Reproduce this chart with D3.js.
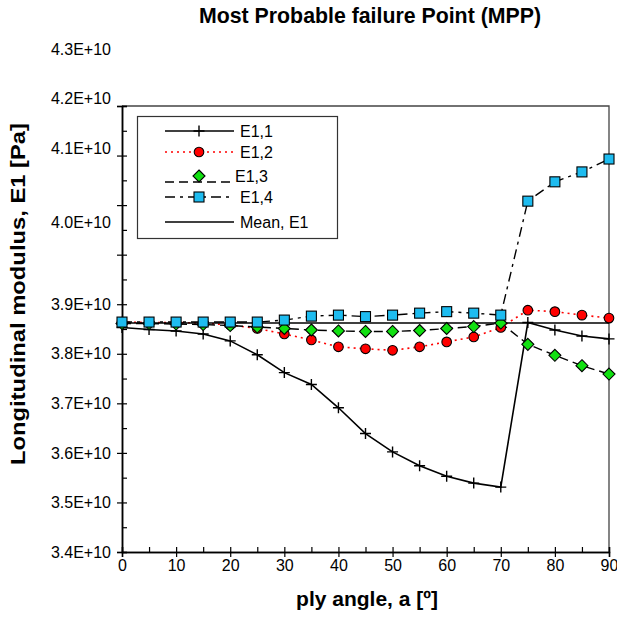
<!DOCTYPE html>
<html>
<head>
<meta charset="utf-8">
<script src="https://cdn.jsdelivr.net/npm/d3@7"></script>
<style>
  body { margin: 0; background: #fff; }
  text { font-family: "Liberation Sans", Arial, sans-serif; fill: #000; }
</style>
</head>
<body>
<div id="chart"></div>
<script>
// ply angle [deg]
var angles = [0, 5, 10, 15, 20, 25, 30, 35, 40, 45, 50, 55, 60, 65, 70, 75, 80, 85, 90];

// E1 values [Pa]
var e11 = [3.853e10, 3.849e10, 3.846e10, 3.840e10, 3.826e10, 3.798e10, 3.762e10, 3.738e10, 3.691e10, 3.639e10,
           3.602e10, 3.574e10, 3.553e10, 3.539e10, 3.531e10, 3.863e10, 3.848e10, 3.836e10, 3.830e10];
var e12 = [3.864e10, 3.863e10, 3.863e10, 3.862e10, 3.858e10, 3.851e10, 3.840e10, 3.828e10, 3.814e10, 3.810e10,
           3.807e10, 3.814e10, 3.824e10, 3.834e10, 3.853e10, 3.888e10, 3.885e10, 3.878e10, 3.872e10];
var e13 = [3.861e10, 3.861e10, 3.860e10, 3.859e10, 3.857e10, 3.854e10, 3.851e10, 3.848e10, 3.846e10, 3.845e10,
           3.845e10, 3.847e10, 3.851e10, 3.855e10, 3.862e10, 3.819e10, 3.797e10, 3.776e10, 3.759e10];
var e14 = [3.864e10, 3.864e10, 3.864e10, 3.864e10, 3.864e10, 3.864e10, 3.868e10, 3.876e10, 3.878e10, 3.875e10,
           3.878e10, 3.882e10, 3.885e10, 3.882e10, 3.878e10, 4.108e10, 4.147e10, 4.167e10, 4.193e10];
var meanE1 = [3.862e10, 3.862e10, 3.862e10, 3.862e10, 3.862e10, 3.862e10, 3.862e10, 3.862e10, 3.862e10, 3.862e10,
              3.862e10, 3.862e10, 3.862e10, 3.862e10, 3.862e10, 3.862e10, 3.862e10, 3.862e10, 3.862e10];

var xTicks = [0, 10, 20, 30, 40, 50, 60, 70, 80, 90];
var xMinorTicks = [0, 5, 10, 15, 20, 25, 30, 35, 40, 45, 50, 55, 60, 65, 70, 75, 80, 85, 90];
var yTicks = [3.4e10, 3.5e10, 3.6e10, 3.7e10, 3.8e10, 3.9e10, 4.0e10, 4.1e10, 4.2e10, 4.3e10];
var yMinorTicks = [3.4e10, 3.45e10, 3.5e10, 3.55e10, 3.6e10, 3.65e10, 3.7e10, 3.75e10, 3.8e10, 3.85e10,
                   3.9e10, 3.95e10, 4.0e10, 4.05e10, 4.1e10, 4.15e10, 4.2e10, 4.25e10, 4.3e10];

var seriesNames = ["E1,1", "E1,2", "E1,3", "E1,4", "Mean, E1"];

var width = 617, height = 619;
var plotLeft = 122, plotRight = 609, plotTop = 106, plotBottom = 552;

var svg = d3.select("#chart").append("svg")
  .attr("width", width)
  .attr("height", height);

var x = d3.scaleLinear().domain([0, 90]).range([plotLeft, plotRight]);
var y = d3.scaleLinear().domain([3.4e10, 4.3e10]).range([plotBottom, plotTop]);

// frame (top and right)
svg.append("path")
  .attr("d", "M" + plotLeft + "," + plotTop + "H" + plotRight + "V" + plotBottom)
  .attr("fill", "none")
  .attr("stroke", "#444")
  .attr("stroke-width", 1.3);

// the upper labels sit higher than their ticks in the original
function labelShift(v) {
  if (v > 4.05e10) return -57;
  if (v > 3.95e10) return -32;
  return 0;
}

var yAxis = svg.append("g")
  .attr("transform", "translate(" + plotLeft + ",0)")
  .call(d3.axisLeft(y).tickValues(yTicks).tickSize(5).tickPadding(6)
    .tickFormat(function (d) { return (d / 1e10).toFixed(1) + "E+10"; }));
yAxis.selectAll("text")
  .attr("font-size", 16)
  .attr("font-family", "Liberation Sans, Arial, sans-serif")
  .attr("y", function (d) { return labelShift(d); });
svg.append("g")
  .attr("transform", "translate(" + plotLeft + ",0)")
  .call(d3.axisRight(y).tickValues(yMinorTicks).tickSize(5).tickFormat(""));

var xAxis = svg.append("g")
  .attr("transform", "translate(0," + plotBottom + ")")
  .call(d3.axisBottom(x).tickValues(xTicks).tickSize(5).tickPadding(3));
xAxis.selectAll("text")
  .attr("font-size", 16)
  .attr("font-family", "Liberation Sans, Arial, sans-serif");
svg.append("g")
  .attr("transform", "translate(0," + plotBottom + ")")
  .call(d3.axisTop(x).tickValues(xMinorTicks).tickSize(5).tickFormat(""));

svg.selectAll(".domain").attr("stroke", "#000").attr("stroke-width", 1.5);
svg.selectAll(".tick line").attr("stroke", "#000").attr("stroke-width", 1.2);

// titles
svg.append("text")
  .attr("x", 370).attr("y", 23)
  .attr("text-anchor", "middle")
  .attr("font-size", 21.3).attr("font-weight", "bold")
  .text("Most Probable failure Point (MPP)");

svg.append("text")
  .attr("x", 367).attr("y", 606)
  .attr("text-anchor", "middle")
  .attr("font-size", 21).attr("font-weight", "bold")
  .text("ply angle, a [º]");

svg.append("text")
  .attr("transform", "translate(25,294) rotate(-90)")
  .attr("text-anchor", "middle")
  .attr("font-size", 21).attr("font-weight", "bold")
  .attr("textLength", 342).attr("lengthAdjust", "spacingAndGlyphs")
  .text("Longitudinal modulus, E1 [Pa]");

// series
function lineFor(values) {
  return d3.line()
    .x(function (d, i) { return x(angles[i]); })
    .y(function (d) { return y(d); })(values);
}

var styles = [
  { values: e11, stroke: "#000", dash: null, width: 1.6 },
  { values: e12, stroke: "#ff0000", dash: "2,4", width: 1.6 },
  { values: e13, stroke: "#000", dash: "9,5", width: 1.4 },
  { values: e14, stroke: "#000", dash: "10,5,3,5", width: 1.4 },
  { values: meanE1, stroke: "#000", dash: null, width: 1.4 }
];

var plot = svg.append("g");
plot.selectAll("path.series")
  .data(styles)
  .enter()
  .append("path")
  .attr("class", "series")
  .attr("d", function (d) { return lineFor(d.values); })
  .attr("fill", "none")
  .attr("stroke", function (d) { return d.stroke; })
  .attr("stroke-width", function (d) { return d.width; })
  .attr("stroke-dasharray", function (d) { return d.dash; });

var plusPath = "M-5.5,0H5.5M0,-5.5V5.5";
var diamondPath = "M0,-6L6,0L0,6L-6,0Z";

function drawMarker(g, kind) {
  if (kind === 0) {
    g.append("path").attr("d", plusPath).attr("stroke", "#000").attr("stroke-width", 1.4).attr("fill", "none");
  } else if (kind === 1) {
    g.append("circle").attr("r", 4.8).attr("fill", "#ff0000").attr("stroke", "#000").attr("stroke-width", 1.1);
  } else if (kind === 2) {
    g.append("path").attr("d", diamondPath).attr("fill", "#11e011").attr("stroke", "#000").attr("stroke-width", 1.1);
  } else if (kind === 3) {
    g.append("rect").attr("x", -5).attr("y", -5).attr("width", 10).attr("height", 10)
      .attr("fill", "#1ebcf0").attr("stroke", "#000").attr("stroke-width", 1.1);
  }
}

[e11, e12, e13, e14].forEach(function (values, k) {
  plot.selectAll("g.m" + k)
    .data(values)
    .enter()
    .append("g")
    .attr("class", "m" + k)
    .attr("transform", function (d, i) { return "translate(" + x(angles[i]) + "," + y(d) + ")"; })
    .each(function () { drawMarker(d3.select(this), k); });
});

// legend
var legend = svg.append("g");
legend.append("rect")
  .attr("x", 137.5).attr("y", 116.5).attr("width", 200).attr("height", 122)
  .attr("fill", "#fff").attr("stroke", "#333").attr("stroke-width", 1.2);

var rowY = [131, 152, 176, 197, 222];
seriesNames.forEach(function (name, k) {
  var ly = rowY[k];
  var lineY = k === 2 ? ly + 6 : ly;
  legend.append("line")
    .attr("x1", 165).attr("x2", 234)
    .attr("y1", lineY).attr("y2", lineY)
    .attr("stroke", styles[k].stroke)
    .attr("stroke-width", styles[k].width)
    .attr("stroke-dasharray", styles[k].dash);
  if (k < 4) {
    var g = legend.append("g").attr("transform", "translate(199," + ly + ")");
    drawMarker(g, k);
  }
  legend.append("text")
    .attr("x", k === 2 ? 235 : 240)
    .attr("y", ly + 6)
    .attr("font-size", 16)
    .text(name);
});
</script>
</body>
</html>
